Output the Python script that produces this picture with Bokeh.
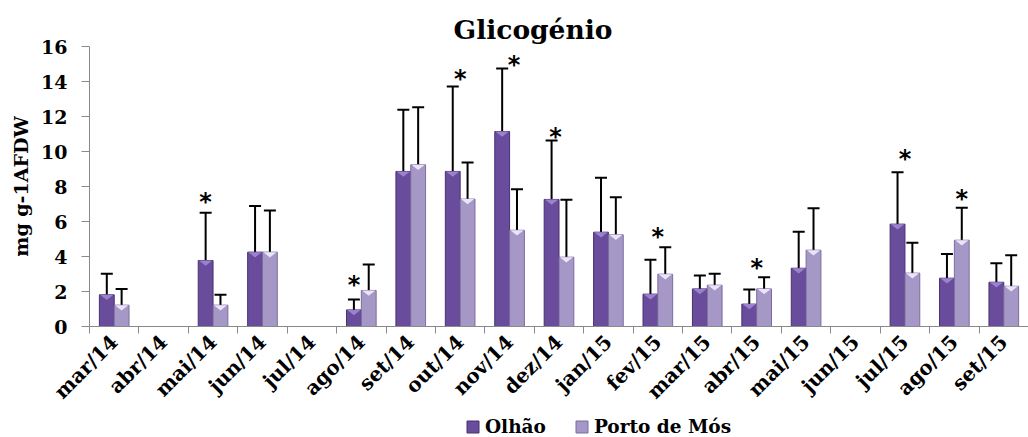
import numpy as np
from bokeh.plotting import figure
from bokeh.layouts import column
from bokeh.models import (ColumnDataSource, Range1d, FixedTicker, Whisker, TeeHead,
                          Legend, LegendItem, Title)
from bokeh.core.properties import value
from bokeh.embed import file_html
from bokeh.resources import INLINE

nan = float("nan")

months = ["mar/14", "abr/14", "mai/14", "jun/14", "jul/14", "ago/14", "set/14", "out/14",
          "nov/14", "dez/14", "jan/15", "fev/15", "mar/15", "abr/15", "mai/15", "jun/15",
          "jul/15", "ago/15", "set/15"]
olhao = [1.81, nan, 3.77, 4.25, nan, 0.95, 8.86, 8.86, 11.14, 7.26, 5.39, 1.85, 2.15, 1.28,
         3.33, nan, 5.85, 2.76, 2.53]
olhao_sd = [1.20, nan, 2.73, 2.63, nan, 0.59, 3.52, 4.85, 3.60, 3.37, 3.11, 1.96, 0.76, 0.83,
            2.08, nan, 2.97, 1.39, 1.09]
porto = [1.22, nan, 1.22, 4.25, nan, 2.06, 9.24, 7.28, 5.50, 3.96, 5.24, 2.99, 2.36, 2.15,
         4.36, nan, 3.05, 4.93, 2.30]
porto_sd = [0.93, nan, 0.59, 2.38, nan, 1.48, 3.29, 2.09, 2.35, 3.28, 2.15, 1.54, 0.65, 0.67,
            2.40, nan, 1.73, 1.85, 1.77]

star_months = ["mai/14", "ago/14", "out/14", "nov/14", "dez/14", "fev/15", "abr/15", "jul/15", "ago/15"]
star_y = [7.3, 2.57, 14.3, 15.1, 11.0, 5.3, 3.49, 9.77, 7.43]
star_shift = [-0.15, -0.15, 0.0, 0.09, -0.07, 0.0, 0.0, 0.0, 0.15]

y_ticks = [0, 2, 4, 6, 8, 10, 12, 14, 16]
series_names = ["Olhão", "Porto de Mós"]

SERIF = "DejaVu Serif"
OL_FILL, OL_LINE, OL_CAP = "#6a4c9c", "#48316f", "#9b82cf"
PO_FILL, PO_LINE, PO_CAP = "#a597c6", "#7c6d9f", "#ebe3f8"

n = len(months)
centers = [i + 0.5 for i in range(n)]
bw = 0.3
cap_depth = 0.3  # bevel depth of the bar caps, in axis units


def series_source(vals, sds, shift):
    xs, ys, tops, cx, cy = [], [], [], [], []
    for i, (v, s) in enumerate(zip(vals, sds)):
        if not np.isnan(v):
            x = centers[i] + shift
            xs.append(x)
            ys.append(v)
            tops.append(v + s)
            cx.append([x - bw * 0.45, x + bw * 0.45, x])
            cy.append([v, v, v - min(cap_depth, v * 0.5)])
    return ColumnDataSource(dict(x=xs, y=ys, top=tops, cx=cx, cy=cy))


src_o = series_source(olhao, olhao_sd, -bw / 2)
src_p = series_source(porto, porto_sd, bw / 2)

p = figure(width=1028, height=416, output_backend="svg", toolbar_location=None,
           x_range=Range1d(0, 19.0), y_range=Range1d(0, 16),
           min_border_left=89, min_border_right=0, min_border_top=46, min_border_bottom=90)
p.outline_line_color = None
p.grid.visible = False
p.background_fill_color = "white"

title = Title(text="Glicogénio", align="left", offset=364,
              text_font=SERIF, text_font_style="bold", text_font_size="26.5px",
              text_color="black", standoff=4)
p.add_layout(title, "above")

for src, fc, lc, cc in ((src_o, OL_FILL, OL_LINE, OL_CAP), (src_p, PO_FILL, PO_LINE, PO_CAP)):
    p.vbar(x="x", top="y", width=bw, bottom=0, source=src,
           fill_color=fc, line_color=lc, line_width=1)
    p.patches(xs="cx", ys="cy", source=src, fill_color=cc, line_color=None)

for src in (src_o, src_p):
    w = Whisker(base="x", lower="y", upper="top", dimension="height", source=src,
                line_color="black", line_width=2, lower_head=None,
                upper_head=TeeHead(size=12, line_color="black", line_width=2))
    p.add_layout(w)

star_x = [centers[months.index(m)] + s for m, s in zip(star_months, star_shift)]
p.text(x=star_x, y=star_y, text=["*"] * len(star_x), text_font=value("DejaVu Sans"),
       text_font_style="bold", text_font_size="24px", text_align="center",
       text_baseline="middle", text_color="black", y_offset=3)

# axes
ya = p.yaxis[0]
ya.ticker = FixedTicker(ticks=y_ticks)
ya.axis_line_color = "#8a8a8a"
ya.major_tick_line_color = "#8a8a8a"
ya.major_tick_out = 8
ya.major_tick_in = 0
ya.minor_tick_line_color = None
ya.major_label_standoff = 14
ya.major_label_text_font = SERIF
ya.major_label_text_font_style = "bold"
ya.major_label_text_font_size = "19px"
ya.major_label_text_color = "black"
ya.axis_label = "mg g-1AFDW"
ya.axis_label_text_font = SERIF
ya.axis_label_text_font_style = "bold"
ya.axis_label_text_font_size = "19px"
ya.axis_label_text_color = "black"
ya.axis_label_standoff = 6

xa = p.xaxis[0]
xa.ticker = FixedTicker(ticks=centers, minor_ticks=list(range(n)))
xa.major_label_overrides = {c: m for c, m in zip(centers, months)}
xa.major_label_orientation = np.pi / 4
xa.axis_line_color = "#8a8a8a"
xa.major_tick_line_color = None
xa.major_tick_out = 0
xa.major_tick_in = 0
xa.minor_tick_line_color = "#8a8a8a"
xa.minor_tick_out = 7
xa.minor_tick_in = 0
xa.major_label_standoff = 5
xa.major_label_text_font = SERIF
xa.major_label_text_font_style = "bold"
xa.major_label_text_font_size = "20px"
xa.major_label_text_color = "black"

# legend strip under the chart (its frame is aligned with the chart's frame)
lg = figure(width=1028, height=21, output_backend="svg", toolbar_location=None,
            x_range=Range1d(0, 1), y_range=Range1d(0, 1),
            min_border_left=0, min_border_right=0, min_border_top=0, min_border_bottom=0)
lg.outline_line_color = None
lg.axis.visible = False
lg.grid.visible = False
k_o = lg.quad(left=[-6], right=[-5], bottom=[-6], top=[-5], fill_color=OL_FILL, line_color=OL_LINE)
k_p = lg.quad(left=[-6], right=[-5], bottom=[-6], top=[-5], fill_color=PO_FILL, line_color=PO_LINE)
legend = Legend(items=[LegendItem(label=series_names[0], renderers=[k_o]),
                       LegendItem(label=series_names[1], renderers=[k_p])],
                orientation="horizontal", location=(376, 0),
                glyph_width=15, glyph_height=15, label_standoff=5, spacing=28,
                padding=0, margin=0, border_line_color=None, background_fill_alpha=0,
                label_text_font=SERIF, label_text_font_style="bold",
                label_text_font_size="18.5px", label_text_color="black", label_height=20)
lg.add_layout(legend, "center")

layout = column(p, lg, spacing=0)
open("out.html", "w").write(file_html(layout, INLINE))
